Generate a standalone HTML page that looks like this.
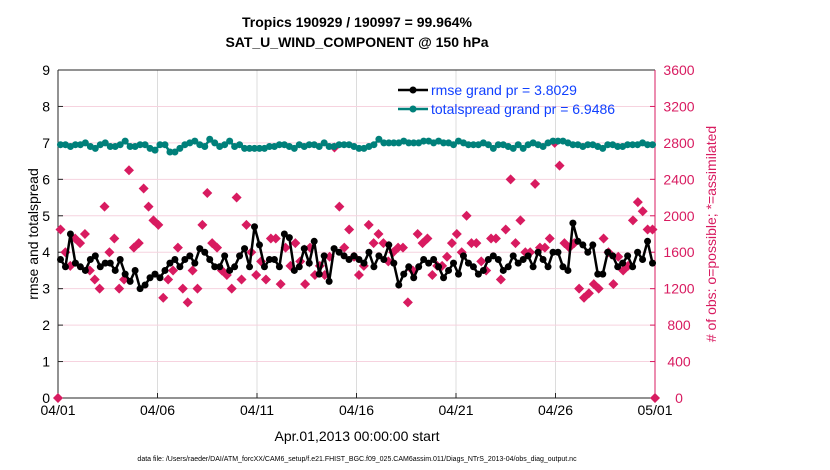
<!DOCTYPE html>
<html><head><meta charset="utf-8">
<style>
html,body{margin:0;padding:0;background:#fff;}
svg{display:block;font-family:"Liberation Sans",Arial,sans-serif;}
</style></head>
<body>
<svg id="chart" width="830" height="470" viewBox="0 0 830 470">
  <text x="357" y="27" text-anchor="middle" font-size="14" font-weight="bold">Tropics 190929 / 190997 = 99.964%</text>
  <text x="357" y="47" text-anchor="middle" font-size="14" font-weight="bold">SAT_U_WIND_COMPONENT @ 150 hPa</text>
  <g id="grid"></g>
  <g id="axes"></g>
  <g id="marks"></g>
  <text transform="translate(38,234) rotate(-90)" text-anchor="middle" font-size="14">rmse and totalspread</text>
  <text transform="translate(716,234) rotate(-90)" text-anchor="middle" font-size="14" fill="#d81b60"># of obs: o=possible; *=assimilated</text>
  <text x="357" y="441" text-anchor="middle" font-size="14">Apr.01,2013 00:00:00 start</text>
  <text x="357" y="461" text-anchor="middle" font-size="7">data file: /Users/raeder/DAI/ATM_forcXX/CAM6_setup/f.e21.FHIST_BGC.f09_025.CAM6assim.011/Diags_NTrS_2013-04/obs_diag_output.nc</text>
  <g>
    <line x1="398" y1="90" x2="428" y2="90" stroke="#000" stroke-width="2.5"/>
    <circle cx="413" cy="90" r="3.5" fill="#000"/>
    <text x="431" y="95" font-size="14" fill="#1040ff">rmse grand pr = 3.8029</text>
    <line x1="398" y1="109" x2="428" y2="109" stroke="#00807a" stroke-width="2.5"/>
    <circle cx="413" cy="109" r="3.5" fill="#00807a"/>
    <text x="431" y="114" font-size="14" fill="#1040ff">totalspread grand pr = 6.9486</text>
  </g>
</svg>
<script>
const xTickLabels = ["04/01","04/06","04/11","04/16","04/21","04/26","05/01"];
const xTickDays = [0,5,10,15,20,25,30];
const yTicks = [0,1,2,3,4,5,6,7,8,9];
const y2Ticks = [0,400,800,1200,1600,2000,2400,2800,3200,3600];
const rmse = [3.8,3.6,4.5,3.7,3.6,3.5,3.8,3.9,3.6,3.7,3.7,3.5,3.8,3.4,3.2,3.5,3.0,3.1,3.3,3.4,3.3,3.5,3.7,3.8,3.6,3.8,3.9,3.7,4.1,4.0,3.8,3.6,3.6,3.9,3.5,3.6,3.9,4.1,3.6,4.7,4.2,3.6,3.8,3.8,3.6,4.5,4.4,3.5,3.6,4.1,3.7,4.3,3.4,3.9,3.2,4.1,4.0,3.9,3.8,3.9,3.8,3.7,4.0,3.6,3.9,3.8,4.2,3.7,3.1,3.4,3.6,3.3,3.6,3.8,3.7,3.8,3.6,3.3,3.5,3.7,3.4,3.9,3.7,3.6,3.4,3.5,3.8,3.9,3.8,3.5,3.6,3.9,3.7,3.8,3.9,3.6,4.0,3.8,3.6,4.0,4.0,3.6,3.5,4.8,4.3,4.2,4.0,4.2,3.4,3.4,4.0,3.9,3.6,3.7,3.9,3.6,4.0,3.8,4.3,3.7];
const spread = [6.95,6.95,6.9,6.95,6.95,7.0,6.9,6.85,6.95,7.0,6.9,6.9,6.95,7.05,6.9,6.9,6.95,6.95,6.85,6.8,6.95,6.95,6.75,6.75,6.85,6.95,7.0,7.05,6.95,6.9,7.1,7.0,6.9,6.95,7.05,6.9,6.95,6.85,6.85,6.85,6.85,6.85,6.9,6.9,6.95,6.95,6.9,6.85,6.95,6.9,6.95,6.95,6.9,7.0,6.9,6.9,6.95,6.95,6.95,6.9,6.85,6.85,6.9,6.95,7.1,7.0,7.0,7.0,7.0,7.05,7.0,7.0,7.0,7.05,7.05,7.0,7.05,7.0,7.0,6.95,7.05,7.0,6.95,6.95,6.95,7.0,6.95,6.85,6.95,6.95,6.9,6.85,6.95,6.85,6.95,7.0,6.95,6.9,7.0,7.05,7.05,7.05,7.0,6.95,6.95,6.9,6.95,6.95,6.9,6.85,6.95,6.95,6.9,6.9,6.95,6.95,6.95,7.0,6.95,6.95];
const obs = [0,1850,1600,1450,1750,1700,1800,1400,1300,1200,2100,1600,1750,1200,1300,2500,1650,1700,2300,2100,1950,1900,1100,1300,1400,1650,1200,1050,1400,1200,1900,2250,1700,1650,1400,1350,1200,2200,1300,1900,1600,1350,1500,1300,1750,1750,1250,1650,1450,1700,1500,1250,1650,1350,1450,1350,1550,2750,2100,1650,1850,1550,1350,1450,1900,1700,1800,1700,1500,1600,1650,1650,1050,1400,1800,1700,1750,1350,1450,1450,1550,1700,1800,1600,2000,1700,1700,1500,1400,1750,1750,1300,1850,2400,1700,1950,1600,1600,2350,1650,1650,1750,2800,2550,1700,1650,1700,1200,1100,1150,1250,1200,1750,1600,1250,1550,1400,1450,1950,2150,2050,1850,1850,0];

const L=58,R=655,T=70,B=398,DAYS=30;
const xs=d=>L+(R-L)*d/DAYS;
const ys=v=>B-(B-T)*v/9;
const ys2=v=>B-(B-T)*v/3600;
const NS='http://www.w3.org/2000/svg';
function mk(tag,attrs,parent){const e=document.createElementNS(NS,tag);for(const k in attrs)e.setAttribute(k,attrs[k]);parent.appendChild(e);return e;}
const grid=document.getElementById('grid'),axes=document.getElementById('axes'),marks=document.getElementById('marks');

xTickDays.forEach((d,i)=>{
  const g=mk('line',{x1:xs(d),x2:xs(d),y1:T,y2:B,stroke:'#dcdcdc','stroke-width':1},grid);
  
  
  const t=mk('text',{x:xs(d),y:B+17,'text-anchor':'middle','font-size':14},axes);
  t.textContent=xTickLabels[i];
  
  
  mk('line',{x1:xs(d),x2:xs(d),y1:B,y2:B-5,stroke:'#262626'},axes);
});
yTicks.forEach(v=>{
  const g=mk('line',{x1:L,x2:R,y1:ys(v),y2:ys(v),stroke:'#f6d3df','stroke-width':1},grid);
  
  
  const t=mk('text',{x:L-8,y:ys(v)+5,'text-anchor':'end','font-size':14},axes);
  t.textContent=v;
  
  
  mk('line',{x1:L,x2:L+5,y1:ys(v),y2:ys(v),stroke:'#262626'},axes);
});
y2Ticks.forEach(v=>{
  const t=mk('text',{x:R+24,y:ys2(v)+5,'text-anchor':'middle','font-size':14,fill:'#d81b60'},axes);
  t.textContent=v;
  
  
  mk('line',{x1:R,x2:R-5,y1:ys2(v),y2:ys2(v),stroke:'#d81b60'},axes);
});
mk('line',{x1:L,x2:L,y1:T,y2:B,stroke:'#262626'},axes);
mk('line',{x1:L,x2:R,y1:B,y2:B,stroke:'#262626'},axes);
mk('line',{x1:L,x2:R,y1:T,y2:T,stroke:'#262626'},axes);
mk('line',{x1:R,x2:R,y1:T,y2:B,stroke:'#d81b60'},axes);

const nIn = obs.length-2;
const step = 29.75/(nIn-1);
obs.forEach((v,i)=>{
  const d = i===0?0:(i===obs.length-1?DAYS:0.125+(i-1)*step);
  const x=xs(d),y=ys2(v),s=5;
  const p=mk('polygon',{points:`${x},${y-s} ${x+s},${y} ${x},${y+s} ${x-s},${y}`,fill:'#d81b60'},marks);
  
  
});
function series(arr,color,name){
  const st=29.75/(arr.length-1);
  const pts=arr.map((v,i)=>[xs(0.125+i*st),ys(v)]);
  const pl=mk('polyline',{points:pts.map(p=>p.join(',')).join(' '),fill:'none',stroke:color,'stroke-width':2.5},marks);
  
  
  pts.forEach(p=>{
    const c=mk('circle',{cx:p[0],cy:p[1],r:3.5,fill:color},marks);
    
    
  });
}
series(spread,'#00807a','totalspread');
series(rmse,'#000','rmse');
</script>
</body></html>
